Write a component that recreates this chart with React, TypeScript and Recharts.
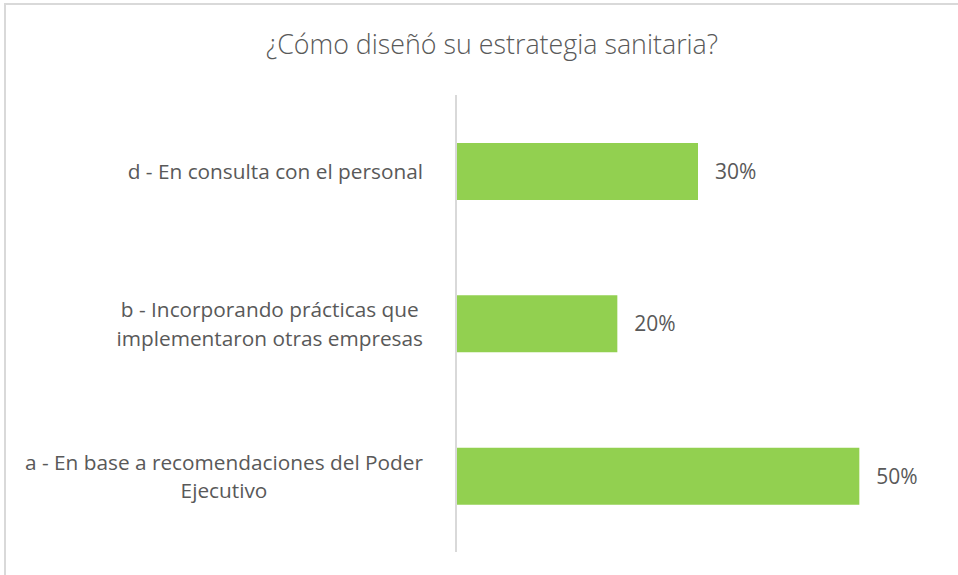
import { BarChart, Bar, XAxis, YAxis, LabelList } from 'recharts';

const TITLE = '¿Cómo diseñó su estrategia sanitaria?';
const CATEGORIES = [
  'd - En consulta con el personal',
  'b - Incorporando prácticas que\nimplementaron otras empresas',
  'a - En base a recomendaciones del Poder\nEjecutivo',
];
const VALUES = [0.3, 0.2, 0.5];

const FONT = '"Open Sans", "Noto Sans", sans-serif';
const TEXT_COLOR = '#595959';
const BAR_COLOR = '#92D050';
const LABEL_SIZE = 20.8;

const chartData = CATEGORIES.map((name, i) => ({ name, value: VALUES[i] }));

let ctx: CanvasRenderingContext2D | null = null;
function measure(text: string): number {
  if (!ctx) ctx = document.createElement('canvas').getContext('2d');
  if (!ctx) return text.length * LABEL_SIZE * 0.55;
  ctx.font = `${LABEL_SIZE}px "Open Sans"`;
  return ctx.measureText(text).width;
}

function CategoryTick(props: any) {
  const { x, y, payload } = props;
  const lines: string[] = String(payload.value).split('\n');
  const right = x - 25;
  const width = Math.max(...lines.map(measure));
  const cx = right - width / 2;
  const lineH = 28.5;
  const startY = y - ((lines.length - 1) * lineH) / 2;
  return (
    <text
      textAnchor="middle"
      fill={TEXT_COLOR}
      fontSize={LABEL_SIZE}
      fontFamily={FONT}
      dominantBaseline="central"
    >
      {lines.map((l, i) => (
        <tspan key={i} x={cx} y={startY + i * lineH}>
          {l}
        </tspan>
      ))}
    </text>
  );
}

export default function App() {
  return (
    <div style={{ position: 'absolute', left: 0, top: 0, width: 958, height: 575, overflow: 'hidden', background: '#fff' }}>
      <div
        style={{
          position: 'absolute',
          left: 4,
          top: 3,
          width: 990,
          height: 600,
          border: '2px solid #d9d9d9',
          boxSizing: 'border-box',
        }}
      />
      <div
        style={{
          position: 'absolute',
          left: 0,
          top: 25,
          width: 984,
          textAlign: 'center',
          fontFamily: FONT,
          fontSize: 26.8,
          fontWeight: 300,
          color: TEXT_COLOR,
          lineHeight: '38px',
        }}
      >
        {TITLE}
      </div>
      <div style={{ position: 'absolute', left: 0, top: 0 }}>
        <BarChart
          width={958}
          height={575}
          data={chartData}
          layout="vertical"
          margin={{ top: 95, right: 18, bottom: 23, left: 0 }}
        >
          <XAxis type="number" domain={[0, 0.6]} hide />
          <YAxis
            type="category"
            dataKey="name"
            width={456}
            tickLine={false}
            axisLine={{ stroke: '#d9d9d9', strokeWidth: 2 }}
            tick={<CategoryTick />}
            interval={0}
          />
          <Bar dataKey="value" fill={BAR_COLOR} barSize={57} isAnimationActive={false}>
            <LabelList
              dataKey="value"
              position="right"
              offset={17}
              formatter={(v: any) => `${Math.round(Number(v) * 100)}%`}
              fill={TEXT_COLOR}
              fontSize={21}
              fontFamily={FONT}
            />
          </Bar>
        </BarChart>
      </div>
    </div>
  );
}
